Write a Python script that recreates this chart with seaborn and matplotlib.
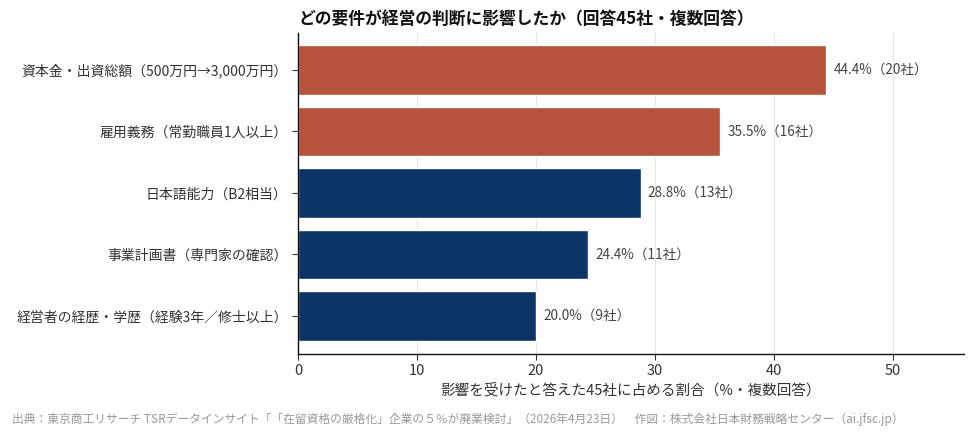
import matplotlib
matplotlib.use("Agg")
import matplotlib.pyplot as plt
import seaborn as sns
import pandas as pd

# 回答45社、複数回答
categories = [
    "資本金・出資総額（500万円→3,000万円）",
    "雇用義務（常勤職員1人以上）",
    "日本語能力（B2相当）",
    "事業計画書（専門家の確認）",
    "経営者の経歴・学歴（経験3年／修士以上）",
]
percent = [44.4, 35.5, 28.8, 24.4, 20.0]
companies = [20, 16, 13, 11, 9]
group = ["新", "新", "旧", "旧", "旧"]

df = pd.DataFrame({"要件": categories, "割合": percent, "社数": companies, "区分": group})

sns.set_theme(style="white")
plt.rcParams["font.family"] = ["Noto Sans CJK JP", "DejaVu Sans"]

fig = plt.figure(figsize=(9.74, 4.34), dpi=100)
ax = fig.add_axes([0.306, 0.184, 0.684, 0.740])

sns.barplot(data=df, y="要件", x="割合", hue="区分", orient="h",
            palette={"新": "#b5533c", "旧": "#0d3466"}, dodge=False,
            saturation=1, width=0.8, legend=False, ax=ax, zorder=2)

for i, (p, c) in enumerate(zip(percent, companies)):
    ax.text(p + 0.6, i, f"{p:.1f}%（{c}社）", va="center", ha="left",
            fontsize=9.8, color="#444444")

ax.set_xlim(0, 56)
ax.set_ylim(4.62, -0.6)
ax.set_xticks([0, 10, 20, 30, 40, 50])
ax.xaxis.grid(True, color="#e6e6e6", linewidth=0.8, zorder=0)
ax.set_axisbelow(True)
ax.set_ylabel("")
ax.set_xlabel("影響を受けたと答えた45社に占める割合（%・複数回答）", fontsize=10.5,
              color="#333333", labelpad=4)
ax.tick_params(axis="x", labelsize=10.5, colors="#333333", length=4, width=0.8, pad=3)
ax.tick_params(axis="y", labelsize=10, colors="#333333", length=4, width=0.8, left=True)
ax.tick_params(axis="x", bottom=True)
for s in ["top", "right"]:
    ax.spines[s].set_visible(False)
for s in ["left", "bottom"]:
    ax.spines[s].set_color("#111111")
    ax.spines[s].set_linewidth(1.0)

fig.text(0.306, 0.957, "どの要件が経営の判断に影響したか（回答45社・複数回答）",
         fontsize=12.1, fontweight="bold", color="#111111", ha="left", va="center")
fig.text(0.012, 0.035,
         "出典：東京商工リサーチ TSRデータインサイト「「在留資格の厳格化」企業の５％が廃業検討」（2026年4月23日）　作図：株式会社日本財務戦略センター（ai.jfsc.jp）",
         fontsize=8.5, color="#999999", ha="left", va="center")

fig.savefig("out.png", dpi=100)
